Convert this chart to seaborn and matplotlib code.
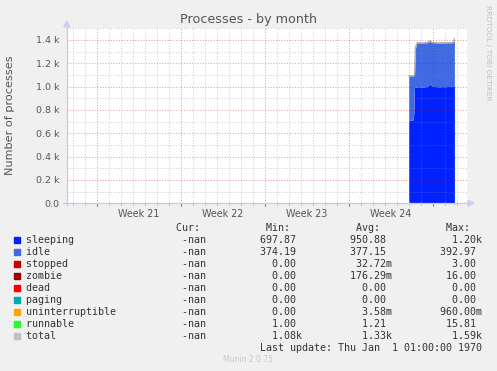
import matplotlib
matplotlib.use("Agg")
import matplotlib.pyplot as plt
import numpy as np
import pandas as pd
import seaborn as sns
from matplotlib.patches import Polygon, Rectangle
from matplotlib.lines import Line2D

# ---------------- data ----------------
days = [25.96, 26.10, 26.20, 26.30, 26.38, 26.44, 26.52, 26.63, 26.80, 27.00, 27.25,
        27.50, 27.74, 27.90, 28.25, 28.50, 28.75, 29.00, 29.25, 29.50, 29.68, 29.76]
sleeping = [713, 715, 712, 714, 760, 995, 998, 996, 1000, 995, 998,
            1000, 1025, 1002, 1000, 998, 1000, 999, 1001, 1000, 1002, 1003]
idle = [379, 377, 381, 378, 334, 104, 331, 375, 377, 378, 377,
        377, 366, 375, 375, 376, 375, 375, 375, 375, 377, 406]
runnable = [1, 1, 1, 1, 1, 1, 1, 1, 1, 1, 1,
            1, 1, 1, 1, 1, 1, 1, 1, 1, 1, 1]
total = [1093, 1093, 1094, 1093, 1095, 1100, 1330, 1372, 1378, 1374, 1376,
         1378, 1392, 1378, 1376, 1375, 1376, 1375, 1377, 1376, 1380, 1410]

week_labels = ["Week 21", "Week 22", "Week 23", "Week 24"]
week_centers = [3.5, 10.5, 17.5, 24.5]
ytick_vals = [0, 200, 400, 600, 800, 1000, 1200, 1400]
ytick_labels = ["0.0", "0.2 k", "0.4 k", "0.6 k", "0.8 k", "1.0 k", "1.2 k", "1.4 k"]

legend_names = ["sleeping", "idle", "stopped", "zombie", "dead", "paging",
                "uninterruptible", "runnable", "total"]
legend_colors = ["#0022ff", "#4169e1", "#cc0000", "#990000", "#ff0000", "#00aaaa",
                 "#ffa500", "#22ff22", "#c0c0c0"]
cur_vals = ["-nan"] * 9
min_vals = ["697.87", "374.19", "0.00", "0.00", "0.00", "0.00", "0.00", "1.00", "1.08k"]
avg_vals = ["950.88", "377.15", "32.72m", "176.29m", "0.00", "0.00", "3.58m", "1.21", "1.33k"]
max_vals = ["1.20k", "392.97", "3.00", "16.00", "0.00", "0.00", "960.00m", "15.81", "1.59k"]

# ---------------- figure ----------------
W, H = 497, 371
sns.set_style("white")
plt.rcParams["font.family"] = ["DejaVu Sans"]

fig = plt.figure(figsize=(W / 100, H / 100), dpi=100, facecolor="#f0f0f0")


def fx(x):
    return x / W


def fy(y):
    return 1 - y / H


AX_L, AX_R, AX_T, AX_B = 66.7, 467.0, 28.3, 203.3
ax = fig.add_axes([fx(AX_L), fy(AX_B), fx(AX_R) - fx(AX_L), fy(AX_T) - fy(AX_B)])
ax.set_facecolor("white")
for s in ax.spines.values():
    s.set_visible(False)

df = pd.DataFrame({"day": days, "sleeping": sleeping, "idle": idle,
                   "runnable": runnable, "total": total})
base = np.zeros(len(df))
for col, c in [("sleeping", "#0022ff"), ("idle", "#4169e1"), ("runnable", "#22ff22")]:
    top = base + df[col].to_numpy()
    ax.fill_between(df["day"], base, top, color=c, lw=0, zorder=1)
    base = top
sns.lineplot(data=df, x="day", y="total", color="#b0b0b0", lw=1.0, ax=ax, zorder=2)

ax.set_xlim(-2.5, 30.81)
ax.set_ylim(0, 1500)

# grid (drawn above data like rrdtool, semi-transparent)
dot = (0, (1, 1.6))
for d in range(-2, 31):
    if d % 7 == 0:
        ax.axvline(d, color=(0.85, 0.0, 0.0), alpha=0.38, lw=0.75, ls=dot, zorder=3)
    else:
        ax.axvline(d, color=(0.55, 0.55, 0.55), alpha=0.4, lw=0.75, ls=dot, zorder=3)
for yv in range(100, 1501, 100):
    if yv % 200 == 0:
        ax.axhline(yv, color=(0.85, 0.0, 0.0), alpha=0.38, lw=0.75, ls=dot, zorder=3)
    else:
        ax.axhline(yv, color=(0.55, 0.55, 0.55), alpha=0.4, lw=0.75, ls=dot, zorder=3)

ax.set_yticks(ytick_vals)
ax.set_yticklabels(ytick_labels)
ax.set_xticks(week_centers)
ax.set_xticklabels(week_labels)
ax.tick_params(axis="y", length=0, pad=5.3, labelsize=6.8, labelcolor="#555555")
ax.tick_params(axis="x", length=0, pad=3.8, labelsize=6.9, labelcolor="#555555")
ax.set_xlabel("")
ax.set_ylabel("")

# small ticks on x axis
xt = ax.get_xaxis_transform()
for d in range(-2, 31):
    if d % 7 == 0:
        ax.plot([d, d], [-2.5 / 175, 0], transform=xt, color="#e06060", lw=0.8, clip_on=False, zorder=4)
    else:
        ax.plot([d, d], [-1.5 / 175, 1.5 / 175], transform=xt, color="#b0b0c8", lw=0.6, clip_on=False, zorder=4)

# axis lines with arrows
axis_col = "#c4c8ee"
fig.add_artist(Line2D([fx(AX_L), fx(AX_L)], [fy(AX_B + 2), fy(27)], color=axis_col, lw=0.9))
fig.add_artist(Line2D([fx(63), fx(468)], [fy(AX_B), fy(AX_B)], color=axis_col, lw=0.9))
fig.add_artist(Polygon([[fx(AX_L - 3), fy(27)], [fx(AX_L + 3), fy(27)], [fx(AX_L), fy(21)]],
                       closed=True, color="#c8d0f8", transform=fig.transFigure))
fig.add_artist(Polygon([[fx(468), fy(AX_B - 3)], [fx(468), fy(AX_B + 3)], [fx(474), fy(AX_B)]],
                       closed=True, color="#c8d0f8", transform=fig.transFigure))

# title, labels
fig.text(fx(248.5), fy(22.7), "Processes - by month", ha="center", va="baseline",
         fontsize=9.2, color="#555555")
fig.text(fx(10), fy(115), "Number of processes", ha="center", va="center", rotation=90,
         fontsize=8.1, color="#555555")
fig.text(fx(488), fy(5), "RRDTOOL / TOBI OETIKER", ha="center", va="top", rotation=270,
         fontsize=5.4, color="#c0c0c0")
fig.text(fx(248), fy(360), "Munin 2.0.75", ha="center", va="center", fontsize=5.5, color="#c8c8c8")

# legend
mono = "DejaVu Sans Mono"
lfs = 7.2


def field(s):
    if s[-1].isalpha() and s != "-nan":
        return f"{s[:-1]:>6}{s[-1]}"
    return f"{s:>6} "


x0 = 25.8
header = " " * 25 + "Cur:" + " " * 11 + "Min:" + " " * 11 + "Avg:" + " " * 11 + "Max:"
fig.text(fx(x0), fy(231.0), header, ha="left", va="baseline", fontsize=lfs,
         family=mono, color="#333333")
for i, name in enumerate(legend_names):
    base_y = 243.2 + 11.96 * i
    row = (f"{name:<24}" + field(cur_vals[i]) + " " * 8 + field(min_vals[i]) + " " * 8
           + field(avg_vals[i]) + " " * 8 + field(max_vals[i]))
    fig.text(fx(x0), fy(base_y), row, ha="left", va="baseline", fontsize=lfs,
             family=mono, color="#333333")
    fig.add_artist(Rectangle((fx(14), fy(base_y)), 6 / W, 6 / H, color=legend_colors[i],
                             transform=fig.transFigure))
fig.text(fx(x0), fy(243.2 + 11.96 * 9), " " * 39 + "Last update: Thu Jan  1 01:00:00 1970",
         ha="left", va="baseline", fontsize=lfs, family=mono, color="#333333")

fig.savefig("out.png", dpi=100, facecolor=fig.get_facecolor())
